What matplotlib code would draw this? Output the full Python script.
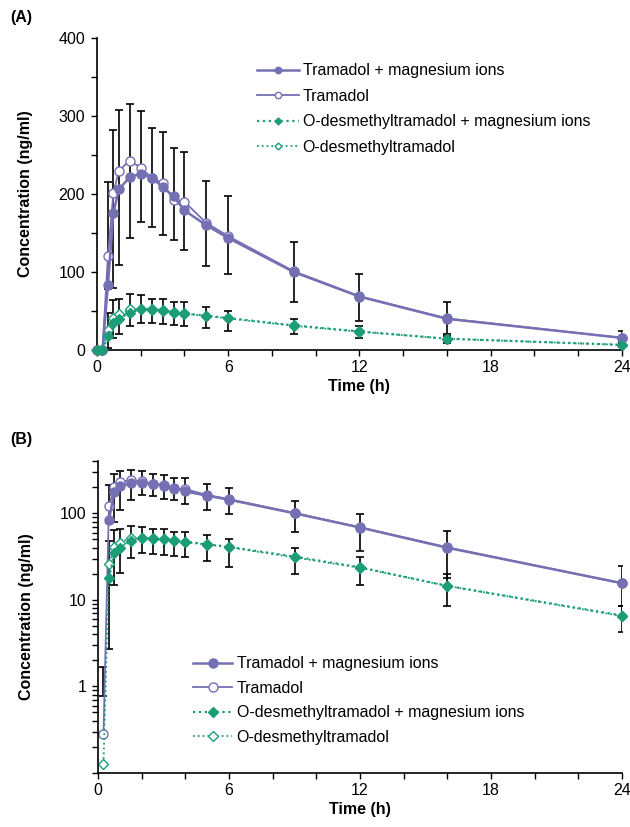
import numpy as np
import matplotlib.pyplot as plt
from matplotlib.ticker import MultipleLocator, LogLocator, NullFormatter, FixedLocator, FixedFormatter

plt.rcParams["font.family"] = ["Liberation Sans", "DejaVu Sans"]
plt.rcParams["font.size"] = 11.5

PURPLE = "#7570b3"
GREEN = "#1b9e77"

# sampling times (h)
time_h = [0, 0.25, 0.5, 0.75, 1, 1.5, 2, 2.5, 3, 3.5, 4, 5, 6, 9, 12, 16, 24]

# tramadol + magnesium ions (ng/ml)
tram_mg = [0, 0, 84, 176, 206, 222, 226, 221, 209, 197, 179, 160, 143.6, 100, 68.5, 40, 15.6]
# tramadol alone
tram = [0, 0.28, 121, 202, 230, 243, 234, 221, 214, 193, 190, 163, 146, 101, 69, 40.5, 15.5]
# O-desmethyltramadol + magnesium ions
odt_mg = [0, 0, 17.8, 35, 40, 48, 52, 52, 51, 49, 47, 44, 41, 31.6, 23.8, 14.5, 6.6]
# O-desmethyltramadol alone
odt = [0, 0.128, 25.8, 41, 46, 52, 52, 51, 50, 48, 46.5, 43.5, 40.5, 31, 23.5, 14.5, 6.5]

# error bar extents (lower, upper) as drawn
tram_lo = [np.nan, 0.77, 78, 79, 109, 144, 164, 158, 148, 141, 128, 108, 97, 61.5, 37, 17.8, 8.6]
tram_hi = [np.nan, 1.67, 215, 282, 308, 315, 306, 285, 280, 259, 254, 217, 198, 139, 98, 62, 24.5]
odt_lo = [np.nan, np.nan, 2.7, 15, 20.6, 30.7, 34.6, 34, 33, 32, 31, 28, 24, 20, 15, 8.6, 4.2]
odt_hi = [np.nan, np.nan, 48, 64, 66, 72, 70, 66, 65.5, 61, 61, 55.5, 50, 40, 31, 20, 8.6]

series = [
    ("Tramadol + magnesium ions", tram_mg, PURPLE, "-", "o", True),
    ("Tramadol", tram, PURPLE, "-", "o", False),
    ("O-desmethyltramadol + magnesium ions", odt_mg, GREEN, ":", "D", True),
    ("O-desmethyltramadol", odt, GREEN, ":", "D", False),
]


def draw(ax, log=False):
    t = np.array(time_h, dtype=float)
    for lo, hi in [(tram_lo, tram_hi), (odt_lo, odt_hi)]:
        lo = np.array(lo, dtype=float)
        hi = np.array(hi, dtype=float)
        ax.errorbar(t, lo, yerr=[np.zeros_like(lo), hi - lo], fmt="none", ecolor="black",
                    elinewidth=1.2, capsize=2.8, capthick=1.2, zorder=1)
    handles = []
    for label, vals, color, ls, mk, filled in series:
        y = np.array(vals, dtype=float)
        if log:
            y = np.where(y > 0, y, np.nan)
        ms = 6.5 if mk == "o" else 5
        lw = 1.8 if ls == "-" else 1.6
        if not filled:
            lw = 1.3
        h, = ax.plot(t, y, ls=ls, color=color, lw=lw, marker=mk, ms=ms,
                     mfc=color if filled else "white", mec=color, mew=1.0,
                     label=label, zorder=3 if filled else 2, clip_on=False)
        handles.append(h)
    for side in ["top", "right"]:
        ax.spines[side].set_visible(False)
    for side in ["left", "bottom"]:
        ax.spines[side].set_linewidth(1.2)
    ax.set_xlim(0, 24)
    ax.xaxis.set_major_locator(FixedLocator([0, 6, 12, 18, 24]))
    ax.xaxis.set_minor_locator(MultipleLocator(2))
    ax.tick_params(which="both", direction="out", length=4.5, width=1.0, pad=4)
    ax.tick_params(axis="x", pad=3)
    ax.set_xlabel("Time (h)", fontweight="bold")
    ax.set_ylabel("Concentration (ng/ml)", fontweight="bold")
    ax.xaxis.set_label_coords(0.5, -0.093)
    ax.yaxis.set_label_coords(-0.122, 0.5)
    return handles


fig = plt.figure(figsize=(6.3, 8.27), dpi=100)
ax1 = fig.add_axes([0.154, 0.5768, 0.833, 0.377])
ax2 = fig.add_axes([0.1556, 0.0653, 0.8317, 0.377])

h1 = draw(ax1)
ax1.set_ylim(0, 400)
ax1.yaxis.set_major_locator(MultipleLocator(100))
ax1.yaxis.set_minor_locator(MultipleLocator(50))
ax1.legend(handles=h1, loc="upper left", bbox_to_anchor=(0.293, 0.94), frameon=False,
           handlelength=2.6, handletextpad=0.25, labelspacing=0.66, markerscale=0.7,
           borderaxespad=0)

h2 = draw(ax2, log=True)
ax2.set_yscale("log", nonpositive="mask")
ax2.set_ylim(0.1, 400)
ax2.yaxis.set_major_locator(FixedLocator([0.1, 1, 10, 100]))
ax2.yaxis.set_major_formatter(FixedFormatter(["", "1", "10", "100"]))
ax2.yaxis.set_minor_locator(LogLocator(base=10, subs=np.arange(2, 10)))
ax2.yaxis.set_minor_formatter(NullFormatter())
ax2.legend(handles=h2, loc="upper left", bbox_to_anchor=(0.17, 0.395), frameon=False,
           handlelength=2.4, handletextpad=0.3, labelspacing=0.6, borderaxespad=0)

fig.text(0.016, 0.979, "(A)", fontweight="bold", va="center", ha="left")
fig.text(0.016, 0.468, "(B)", fontweight="bold", va="center", ha="left")

fig.savefig("out.png", dpi=100)
